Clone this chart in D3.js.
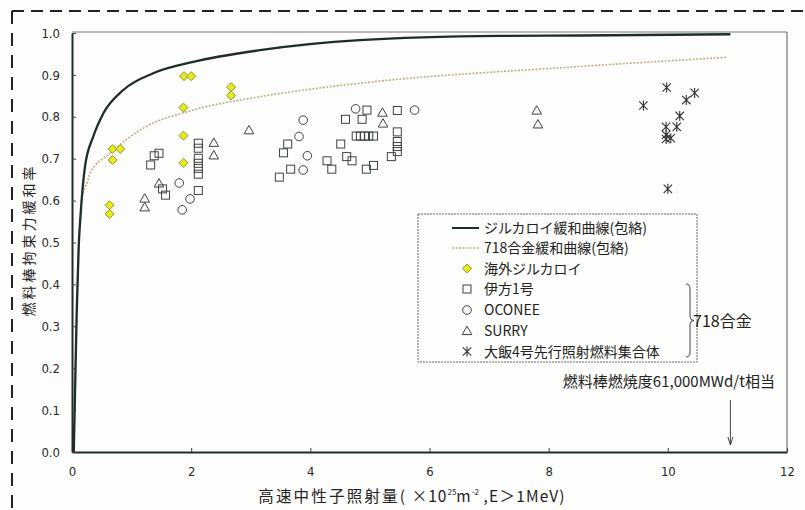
<!DOCTYPE html>
<html>
<head>
<meta charset="utf-8">
<script src="https://cdn.jsdelivr.net/npm/d3@7"></script>
<style>
  html, body { margin: 0; padding: 0; background: #fdfdfb; }
  svg { display: block; }
  .tick-label { font-family: "Liberation Sans Narrow", "DejaVu Sans Condensed", "Liberation Sans", sans-serif; font-size: 13px; fill: #2a2a2a; }
  .jp { font-family: "Noto Sans CJK JP", "Noto Sans", sans-serif; fill: #222; }
</style>
</head>
<body>
<svg id="chart" width="805" height="510"></svg>
<script>
// Envelope curves: fast neutron fluence (x10^25 m^-2) vs. restraint-force relaxation ratio
const zircCurveX = [0.03, 0.055, 0.079, 0.112, 0.146, 0.218, 0.357, 0.525, 0.861, 1.364, 2.035, 3.154, 4.83, 7.18, 8.52, 11.05];
const zircCurveY = [0.0, 0.172, 0.332, 0.489, 0.570, 0.681, 0.753, 0.808, 0.864, 0.904, 0.931, 0.959, 0.983, 0.993, 0.994, 0.997];
const alloyCurveX = [0.03, 0.055, 0.079, 0.112, 0.146, 0.163, 0.268, 0.302, 0.638, 1.196, 2.035, 3.154, 4.83, 8.52, 11.0];
const alloyCurveY = [0.0, 0.172, 0.332, 0.489, 0.570, 0.601, 0.649, 0.665, 0.713, 0.773, 0.816, 0.848, 0.880, 0.920, 0.942];

// Measured points [fluence, relaxation ratio]
const overseasZry = [[0.63,0.568],[0.63,0.589],[0.68,0.697],[0.68,0.723],[0.81,0.723],[1.87,0.690],[1.87,0.755],[1.87,0.822],[1.88,0.897],[2.00,0.897],[2.67,0.871],[2.67,0.851]];
const ikata1 = [[1.38,0.707],[1.46,0.713],[1.32,0.685],[1.52,0.628],[1.57,0.613],
  [2.12,0.737],[2.12,0.725],[2.12,0.701],[2.12,0.689],[2.12,0.677],[2.12,0.663],[2.12,0.624],
  [3.62,0.735],[3.55,0.714],[3.67,0.675],[3.48,0.656],
  [4.59,0.794],[4.87,0.794],[4.95,0.816],[5.46,0.815],
  [4.77,0.754],[4.84,0.754],[4.91,0.754],[4.98,0.754],[5.06,0.754],
  [5.46,0.764],[5.46,0.741],[5.46,0.729],[5.46,0.717],[5.36,0.705],
  [4.51,0.735],[4.61,0.705],[4.70,0.695],[4.28,0.695],[4.36,0.675],[4.94,0.675],[5.06,0.684]];
const oconee = [[1.80,0.642],[1.98,0.604],[1.85,0.578],[3.88,0.792],[3.81,0.753],[3.95,0.707],[3.88,0.673],[4.76,0.819],[5.75,0.816]];
const surry = [[1.46,0.641],[1.22,0.605],[1.22,0.584],[2.38,0.738],[2.38,0.708],[2.97,0.768],[5.21,0.810],[5.22,0.784],[7.80,0.815],[7.82,0.782]];
const ohi4 = [[9.98,0.870],[10.45,0.857],[10.31,0.840],[9.59,0.827],[10.20,0.802],[9.97,0.776],[10.15,0.776],[9.97,0.757],[9.97,0.747],[10.05,0.749],[10.00,0.628]];

const xTicks = [0, 2, 4, 6, 8, 10, 12];
const yTicks = [0, 0.1, 0.2, 0.3, 0.4, 0.5, 0.6, 0.7, 0.8, 0.9, 1.0];
const burnupFluence = 11.05; // fuel rod burnup 61,000 MWd/t

const legendLabels = ["ジルカロイ緩和曲線(包絡)", "718合金緩和曲線(包絡)", "海外ジルカロイ", "伊方1号", "OCONEE", "SURRY", "大飯4号先行照射燃料集合体"];

const svg = d3.select("#chart");
const x = d3.scaleLinear().domain([0, 12]).range([72, 787]);
const y = d3.scaleLinear().domain([0, 1]).range([452, 33]);

// dashed page border
svg.append("line").attr("x1", 12).attr("y1", 11).attr("x2", 805).attr("y2", 11)
  .attr("stroke", "#222").attr("stroke-width", 2).attr("stroke-dasharray", "12,7");
svg.append("line").attr("x1", 12).attr("y1", 11).attr("x2", 12).attr("y2", 510)
  .attr("stroke", "#222").attr("stroke-width", 2).attr("stroke-dasharray", "13,9");

// plot frame (top / right)
svg.append("line").attr("x1", x(0)).attr("x2", x(12)).attr("y1", y(1) - 1).attr("y2", y(1) - 1)
  .attr("stroke", "#777").attr("stroke-width", 1.2);
svg.append("line").attr("x1", x(12)).attr("x2", x(12)).attr("y1", y(1) - 1).attr("y2", y(0))
  .attr("stroke", "#777").attr("stroke-width", 1.2);

// axes with inward ticks
const xAxis = svg.append("g").attr("transform", `translate(0,${y(0)})`)
  .call(d3.axisBottom(x).tickValues(xTicks).tickSize(-4).tickSizeOuter(0).tickPadding(12).tickFormat(d3.format("d")));
const yAxis = svg.append("g").attr("transform", `translate(${x(0)},0)`)
  .call(d3.axisLeft(y).tickValues(yTicks).tickSize(-4).tickSizeOuter(0).tickPadding(12).tickFormat(d3.format(".1f")));
[xAxis, yAxis].forEach(g => {
  g.select(".domain").attr("stroke", "#1e2d28").attr("stroke-width", 2);
  g.selectAll(".tick line").attr("stroke", "#444").attr("stroke-width", 1);
  g.selectAll(".tick text").attr("class", "tick-label").attr("font-family", null).attr("font-size", null);
});
xAxis.selectAll(".tick text").attr("dy", "0.9em");

// axis titles
svg.append("text").attr("class", "jp")
  .attr("transform", `translate(34,${240}) rotate(-90)`)
  .attr("text-anchor", "middle").attr("font-size", 14).attr("letter-spacing", 3)
  .text("燃料棒拘束力緩和率");

const xt = svg.append("text").attr("class", "jp").attr("x", 412).attr("y", 502)
  .attr("text-anchor", "middle").attr("font-size", 15.5);
xt.append("tspan").attr("letter-spacing", 2.2).text("高速中性子照射量(");
xt.append("tspan").attr("letter-spacing", 1).text(" ×10");
xt.append("tspan").attr("font-size", 8).attr("dy", -7).text("25");
xt.append("tspan").attr("dy", 7).attr("letter-spacing", 1).text("m");
xt.append("tspan").attr("font-size", 8).attr("dy", -7).text("-2");
xt.append("tspan").attr("dy", 7).attr("letter-spacing", 1.2).text("  ,E＞1MeV)");

// envelope curves
const line = d3.line().x(d => x(d[0])).y(d => y(d[1])).curve(d3.curveMonotoneX);
const alloyPts = alloyCurveX.map((v, i) => [v, alloyCurveY[i]]);
const zircPts = zircCurveX.map((v, i) => [v, zircCurveY[i]]);
svg.append("path").attr("d", line(alloyPts)).attr("fill", "none")
  .attr("stroke", "#c4aa88").attr("stroke-width", 1.6).attr("stroke-dasharray", "2,1.5");
svg.append("path").attr("d", line(zircPts)).attr("fill", "none")
  .attr("stroke", "#1e2d28").attr("stroke-width", 2.3);

// marker drawing helpers
const mk = "#3b4540";
function drawMarker(g, type, cx, cy) {
  if (type === "diamond") {
    g.append("path").attr("d", `M${cx},${cy-4.5}L${cx+4.5},${cy}L${cx},${cy+4.5}L${cx-4.5},${cy}Z`)
      .attr("fill", "#e6ea1e").attr("stroke", "#8f9a2c").attr("stroke-width", 1);
  } else if (type === "square") {
    g.append("rect").attr("x", cx - 4).attr("y", cy - 4).attr("width", 8).attr("height", 8)
      .attr("fill", "none").attr("stroke", mk).attr("stroke-width", 1);
  } else if (type === "circle") {
    g.append("circle").attr("cx", cx).attr("cy", cy).attr("r", 4.3)
      .attr("fill", "none").attr("stroke", mk).attr("stroke-width", 1);
  } else if (type === "triangle") {
    g.append("path").attr("d", `M${cx},${cy-4.8}L${cx+4.8},${cy+3.6}L${cx-4.8},${cy+3.6}Z`)
      .attr("fill", "none").attr("stroke", mk).attr("stroke-width", 1);
  } else if (type === "asterisk") {
    const r = 4.2;
    g.append("path").attr("d",
      `M${cx-r},${cy-r}L${cx+r},${cy+r}M${cx-r},${cy+r}L${cx+r},${cy-r}M${cx},${cy-r-0.8}L${cx},${cy+r+0.8}`)
      .attr("fill", "none").attr("stroke", "#333").attr("stroke-width", 1.1);
  }
}
const series = [
  [ikata1, "square"], [oconee, "circle"], [surry, "triangle"], [ohi4, "asterisk"], [overseasZry, "diamond"]
];
const pts = svg.append("g");
series.forEach(([data, type]) => data.forEach(d => drawMarker(pts, type, x(d[0]), y(d[1]))));

// legend
const lg = svg.append("g");
lg.append("rect").attr("x", 418).attr("y", 214).attr("width", 279).attr("height", 148)
  .attr("fill", "#fdfdfb").attr("stroke", "#666").attr("stroke-width", 1).attr("stroke-dasharray", "2,1");
const rowY = [228, 248, 268.5, 289, 310, 331, 351.5];
lg.append("line").attr("x1", 452).attr("x2", 479).attr("y1", rowY[0]).attr("y2", rowY[0])
  .attr("stroke", "#1e2d28").attr("stroke-width", 2);
lg.append("line").attr("x1", 452).attr("x2", 479).attr("y1", rowY[1]).attr("y2", rowY[1])
  .attr("stroke", "#c4aa88").attr("stroke-width", 1.4).attr("stroke-dasharray", "2,1.5");
["diamond", "square", "circle", "triangle", "asterisk"].forEach((t, i) => {
  drawMarker(lg, t, 467, rowY[i + 2]);
});
legendLabels.forEach((s, i) => {
  lg.append("text").attr("class", "jp").attr("x", 484).attr("y", rowY[i] + 5)
    .attr("font-size", 14).text(s);
});
// brace grouping the 718 alloy series
const bx = 686, by0 = 284, by1 = 357, bm = (by0 + by1) / 2;
lg.append("path").attr("d",
  `M${bx},${by0} Q${bx+4},${by0} ${bx+4},${by0+5} L${bx+4},${bm-4} Q${bx+4},${bm} ${bx+8},${bm} Q${bx+4},${bm} ${bx+4},${bm+4} L${bx+4},${by1-5} Q${bx+4},${by1} ${bx},${by1}`)
  .attr("fill", "none").attr("stroke", "#444").attr("stroke-width", 1);
lg.append("text").attr("class", "jp").attr("x", 693).attr("y", bm + 6).attr("font-size", 16).text("718合金");

// burnup marker
svg.append("text").attr("class", "jp").attr("x", 775).attr("y", 387).attr("text-anchor", "end")
  .attr("font-size", 15).text("燃料棒燃焼度61,000MWd/t相当");
const ax = x(burnupFluence);
svg.append("path").attr("d", `M${ax},400L${ax},445M${ax-2.5},437L${ax},445L${ax+2.5},437`)
  .attr("fill", "none").attr("stroke", "#444").attr("stroke-width", 1);
</script>
</body>
</html>
